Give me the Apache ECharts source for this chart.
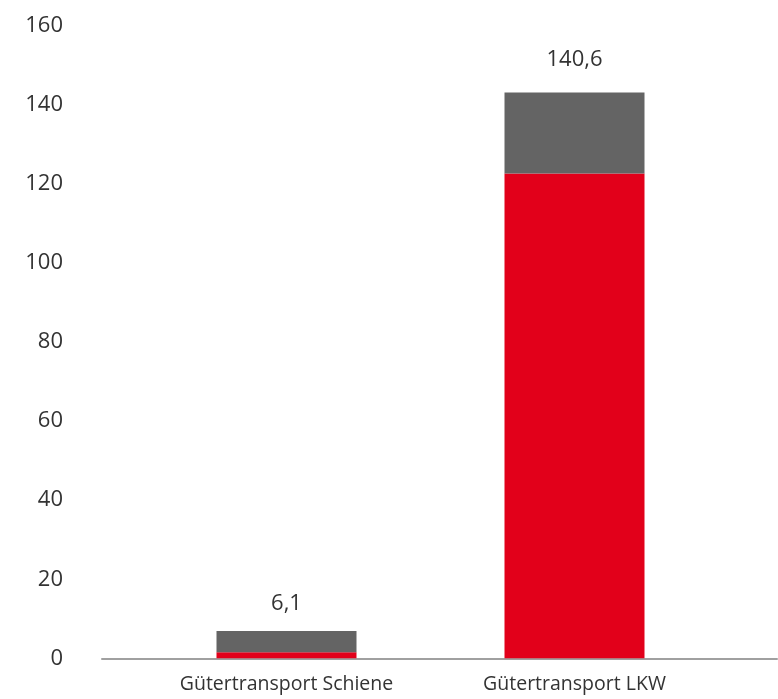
<!DOCTYPE html>
<html>
<head>
<meta charset="utf-8">
<style>html,body{margin:0;padding:0;background:#fff}#c{width:778px;height:699px}</style>
<script src="https://cdn.jsdelivr.net/npm/echarts@6/dist/echarts.min.js"></script>
</head>
<body>
<div id="c"></div>
<script>
const categories = ['Gütertransport Schiene', 'Gütertransport LKW'];
const redPart = [1.5, 122.7];
const greyPart = [5.4, 20.5];
const totalLabels = [6.1, 140.6];
const yTicks = [0, 20, 40, 60, 80, 100, 120, 140, 160];

const chart = echarts.init(document.getElementById('c'), null, {renderer: 'canvas'});
const fontFamily = '"Open Sans", "Noto Sans", sans-serif';
const labelDistances = [16, 22];

chart.setOption({
  animation: false,
  backgroundColor: '#fff',
  grid: [
    {left: 142.5, right: 59.5, top: 26, bottom: 40.7},
    {left: 102, right: 1, top: 26, bottom: 40.7}
  ],
  xAxis: [
    {
      type: 'category', gridIndex: 0, data: categories,
      axisLine: {show: false}, axisTick: {show: false},
      axisLabel: {fontFamily, fontSize: 19.5, color: '#333333', margin: 16}
    },
    {
      type: 'value', gridIndex: 1, min: 0, max: 1,
      axisLine: {show: true, lineStyle: {color: '#a0a0a0', width: 2}},
      axisTick: {show: false}, axisLabel: {show: false}, splitLine: {show: false}
    }
  ],
  yAxis: [
    {
      type: 'value', gridIndex: 0, min: yTicks[0], max: yTicks[yTicks.length - 1], interval: 20,
      axisLine: {show: false}, axisTick: {show: false}, splitLine: {show: false},
      axisLabel: {fontFamily, fontSize: 22, color: '#333333', margin: 79.5, padding: [0, 0, 8, 0]}
    },
    {type: 'value', gridIndex: 1, show: false, min: 0, max: 1}
  ],
  series: [
    {
      type: 'bar', stack: 'a', xAxisIndex: 0, yAxisIndex: 0, barWidth: 140,
      itemStyle: {color: '#e2001a'}, data: redPart
    },
    {
      type: 'bar', stack: 'a', xAxisIndex: 0, yAxisIndex: 0, barWidth: 140,
      itemStyle: {color: '#646464'},
      data: greyPart.map((v, i) => ({
        value: v,
        label: {
          show: true, position: 'top', distance: labelDistances[i],
          fontFamily, fontSize: 22, color: '#333333',
          formatter: () => totalLabels[i].toFixed(1).replace('.', ',')
        }
      }))
    }
  ]
});
</script>
</body>
</html>
